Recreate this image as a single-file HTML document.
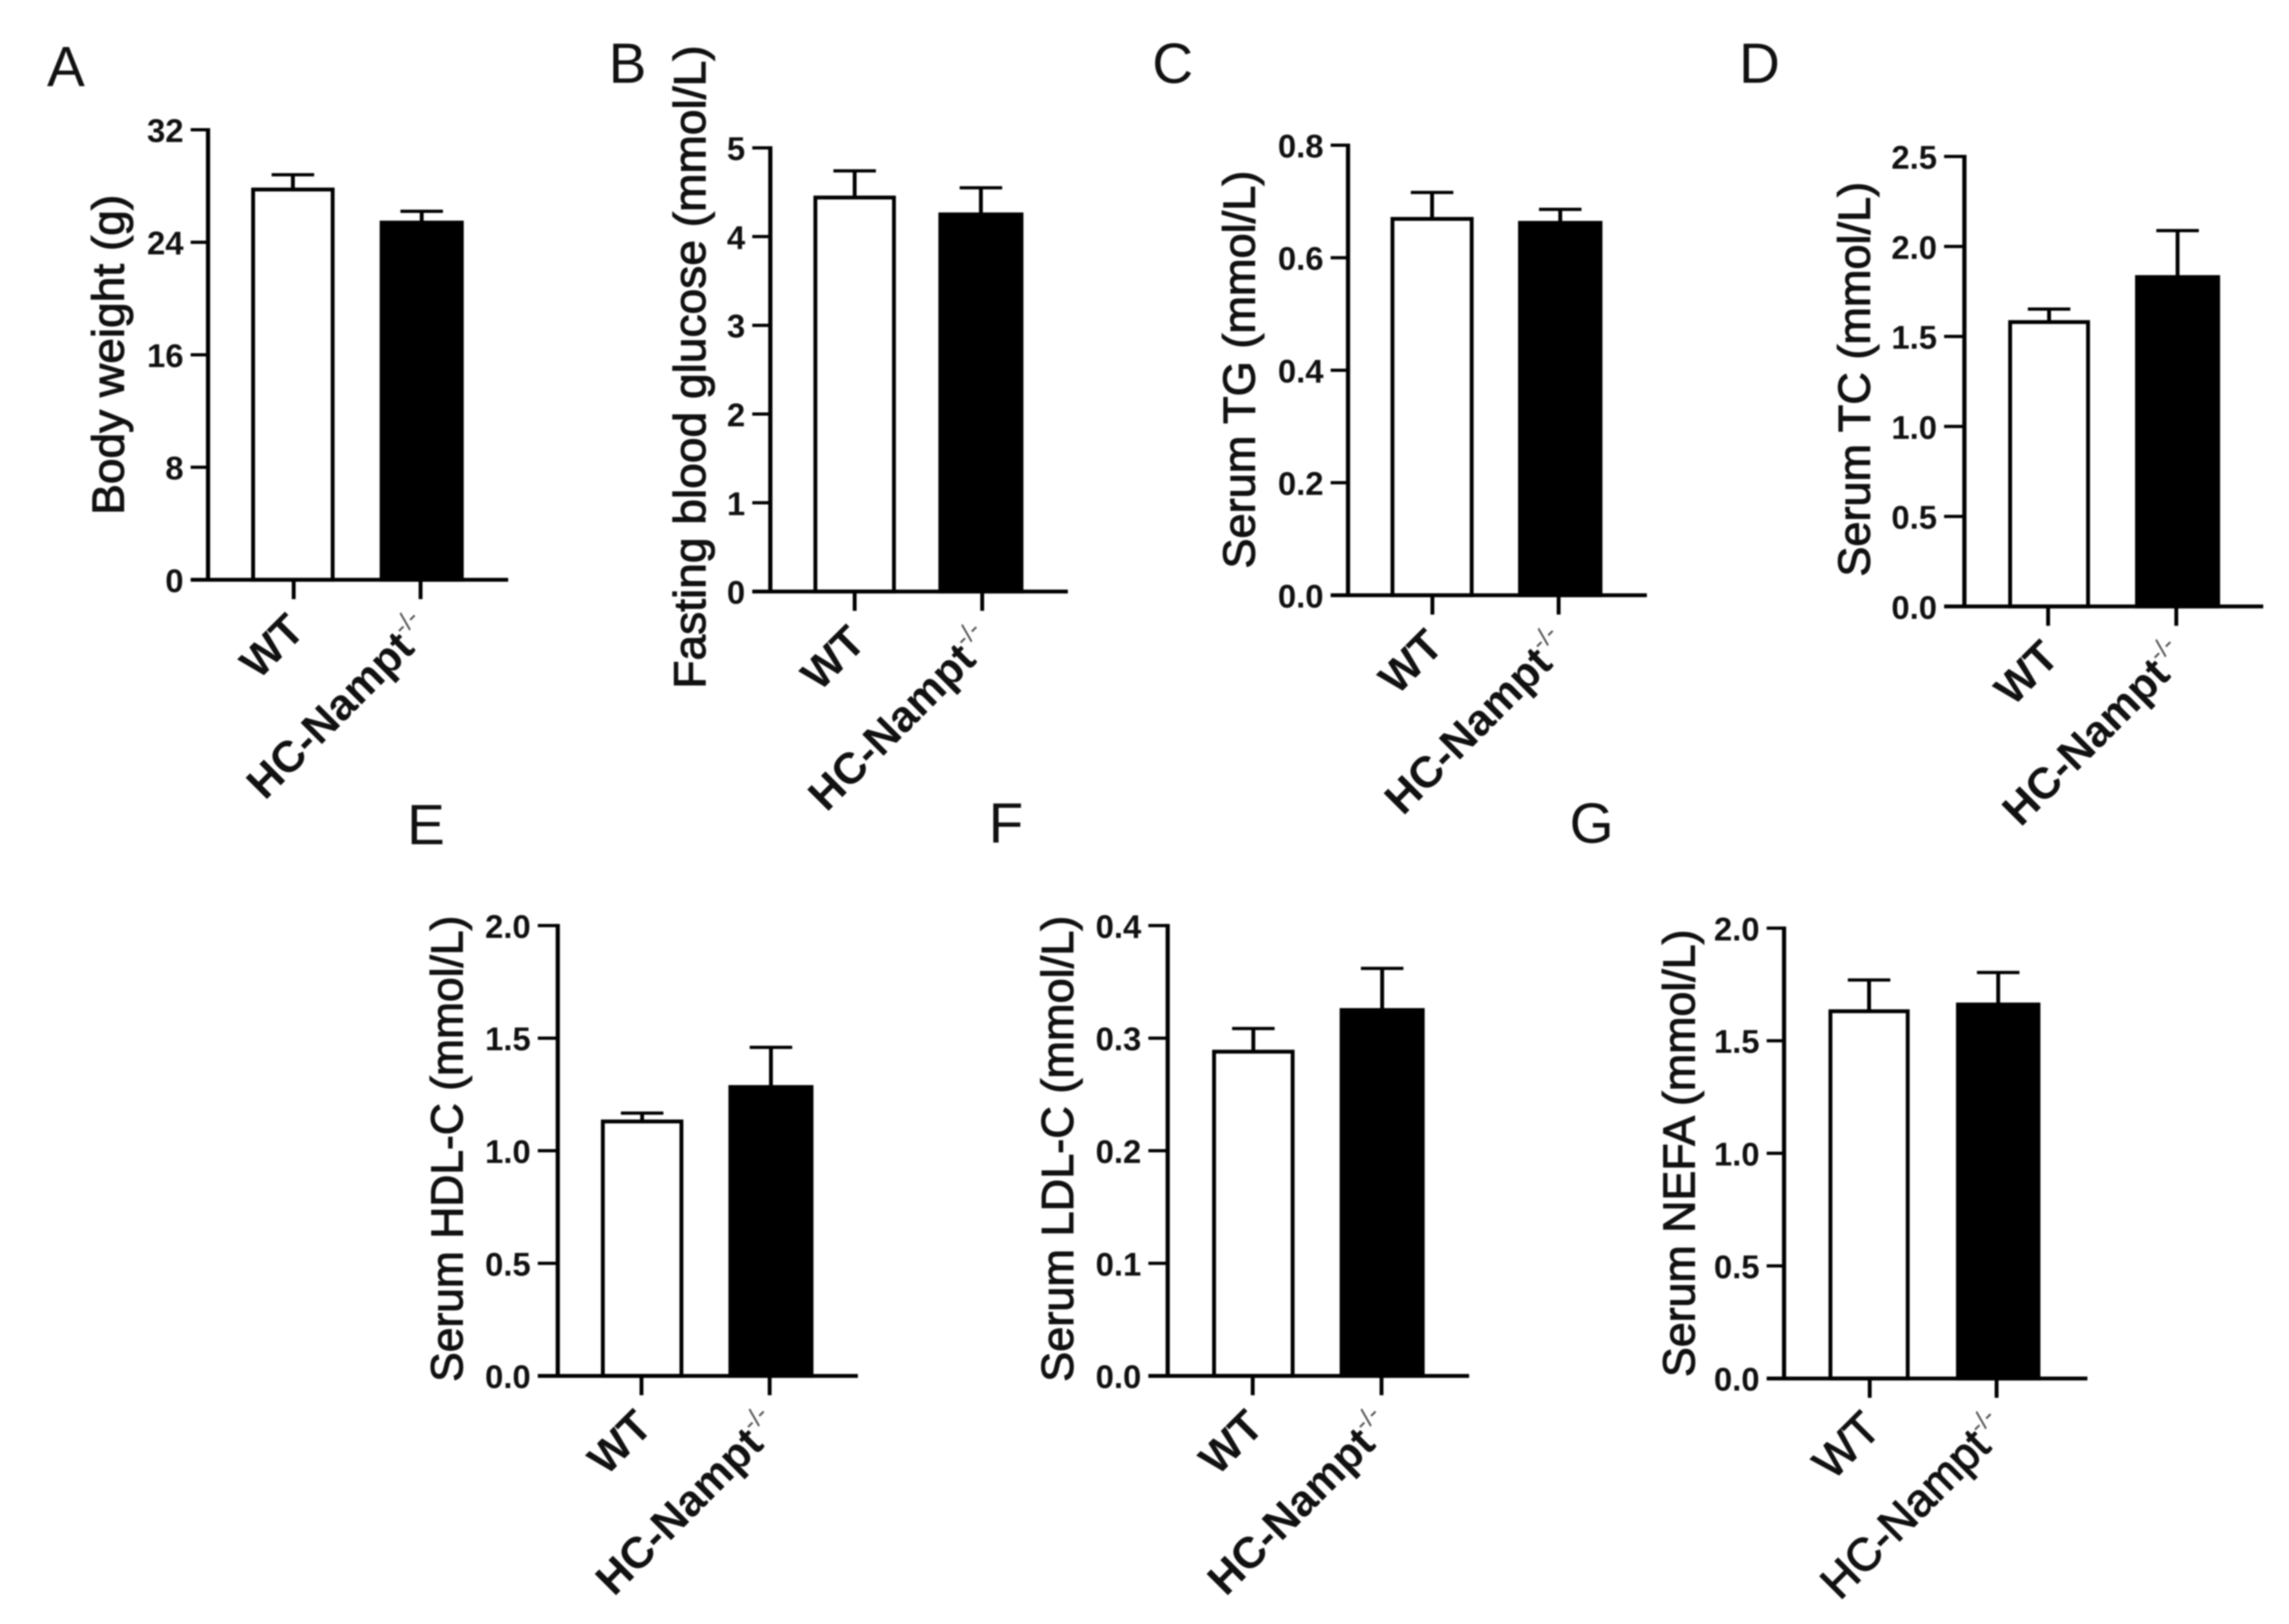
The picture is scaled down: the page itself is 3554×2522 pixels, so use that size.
<!DOCTYPE html>
<html lang="en">
<head>
<meta charset="utf-8">
<title>Body weight and serum lipid bar charts</title>
<style>
html,body{margin:0;padding:0;background:#fff;width:3554px;height:2522px;overflow:hidden}
svg{display:block;filter:blur(1px)}
text{font-family:"Liberation Sans",Arial,sans-serif;fill:#111}
</style>
</head>
<body>
<svg id="figure" xmlns="http://www.w3.org/2000/svg" width="3554" height="2522" viewBox="0 0 3554 2522"></svg>
<script>
// Chart data
const categories = ['WT', 'HC-Nampt'];
const categorySuperscripts = ['', '-/-'];

const panelLetters = ['A', 'B', 'C', 'D', 'E', 'F', 'G'];
const yTitles = ['Body weight (g)', 'Fasting blood glucose (mmol/L)', 'Serum TG (mmol/L)', 'Serum TC (mmol/L)', 'Serum HDL-C (mmol/L)', 'Serum LDL-C (mmol/L)', 'Serum NEFA (mmol/L)'];

const tickLabelsA = ['0', '8', '16', '24', '32'];
const tickLabelsB = ['0', '1', '2', '3', '4', '5'];
const tickLabelsC = ['0.0', '0.2', '0.4', '0.6', '0.8'];
const tickLabelsD = ['0.0', '0.5', '1.0', '1.5', '2.0', '2.5'];
const tickLabelsE = ['0.0', '0.5', '1.0', '1.5', '2.0'];
const tickLabelsF = ['0.0', '0.1', '0.2', '0.3', '0.4'];
const tickLabelsG = ['0.0', '0.5', '1.0', '1.5', '2.0'];

const meansA = [27.75, 25.4];
const errorTopsA = [28.8, 26.2];
const meansB = [4.44, 4.25];
const errorTopsB = [4.74, 4.55];
const meansC = [0.669, 0.662];
const errorTopsC = [0.716, 0.686];
const meansD = [1.58, 1.83];
const errorTopsD = [1.652, 2.088];
const meansE = [1.13, 1.283];
const errorTopsE = [1.167, 1.459];
const meansF = [0.288, 0.325];
const errorTopsF = [0.3086, 0.362];
const meansG = [1.631, 1.661];
const errorTopsG = [1.77, 1.803];

// Rendering
const svg = document.getElementById('figure');
const NS = 'http://www.w3.org/2000/svg';

function make(tag, attrs, parent) {
  const el = document.createElementNS(NS, tag);
  for (const k in attrs) el.setAttribute(k, attrs[k]);
  parent.appendChild(el);
  return el;
}

function linearY(maxValue, top, base) {
  return function (v) { return base - (v / maxValue) * (base - top); };
}

function drawPanel(idx, tickLabels, means, errorTops, g) {
  const key = panelLetters[idx].toLowerCase();
  const group = make('g', {}, svg);
  
  

  const letter = make('text', {
    x: g.letterX,
    y: g.letterY,
    'font-size': 88
  }, group);
  letter.textContent = panelLetters[idx];
  
  

  const title = make('text', {
    transform: 'translate(' + g.titleX + ',' + g.titleY + ') rotate(-90)',
    'text-anchor': 'middle',
    'font-size': 70,
    textLength: g.titleLen,
    lengthAdjust: 'spacingAndGlyphs',
    stroke: '#111',
    'stroke-width': 1.6
  }, group);
  title.textContent = yTitles[idx];
  
  

  const maxValue = parseFloat(tickLabels[tickLabels.length - 1]);
  const y = linearY(maxValue, g.top, g.base);

  tickLabels.forEach(function (label) {
    const ty = y(parseFloat(label));
    const tick = make('line', { x1: g.left, x2: g.axis, y1: ty, y2: ty, stroke: '#000', 'stroke-width': 5 }, group);
    
    
    const text = make('text', {
      x: g.left - 11,
      y: ty + 19,
      'text-anchor': 'end',
      'font-size': 51,
      'font-weight': 'bold'
    }, group);
    text.textContent = label;
    
    
  });

  categories.forEach(function (name, i) {
    const x0 = g.barL[i], x1 = g.barR[i], cx = (x0 + x1) / 2;
    const barTop = y(means[i]);
    const errTop = y(errorTops[i]);

    const stem = make('line', { x1: cx, x2: cx, y1: barTop, y2: errTop, stroke: '#000', 'stroke-width': 6 }, group);
    
    
    const cap = make('line', { x1: cx - 33, x2: cx + 33, y1: errTop, y2: errTop, stroke: '#000', 'stroke-width': 5 }, group);
    
    

    const bar = make('rect', {
      x: x0 + 3, y: barTop, width: x1 - x0 - 6, height: g.base - barTop,
      fill: i === 0 ? '#fff' : '#000', stroke: '#000', 'stroke-width': 6
    }, group);
    
    

    const xTick = make('line', { x1: g.tick[i], x2: g.tick[i], y1: g.base, y2: g.base + 30, stroke: '#000', 'stroke-width': 6 }, group);
    
    

    const lab = make('text', {
      transform: 'translate(' + (g.tick[i] + 20) + ',' + (g.base + 82) + ') rotate(-45)',
      'text-anchor': 'end',
      'font-size': g.lightLabels ? 71 : 68,
      'font-weight': g.lightLabels ? 'normal' : 'bold',
      stroke: g.lightLabels ? '#111' : 'none',
      'stroke-width': g.lightLabels ? 1.8 : 0
    }, group);
    
    
    lab.appendChild(document.createTextNode(name));
    if (categorySuperscripts[i]) {
      const sup = make('tspan', { dy: -29, 'font-size': 40, 'font-weight': 'normal', fill: '#555', stroke: 'none' }, lab);
      sup.textContent = categorySuperscripts[i];
    }
  });

  const yAxis = make('line', { x1: g.axis, x2: g.axis, y1: g.top - 2.5, y2: g.base, stroke: '#000', 'stroke-width': 6.5 }, group);
  
  
  const xAxis = make('line', { x1: g.left, x2: g.right, y1: g.base, y2: g.base, stroke: '#000', 'stroke-width': 6 }, group);
  
  
}

drawPanel(0, tickLabelsA, meansA, errorTopsA, { letterX: 73, letterY: 134, titleX: 192, titleY: 551, titleLen: 497, axis: 323, left: 296, right: 789, top: 201.5, base: 900.4, barL: [390, 589.5], barR: [519.5, 720], tick: [456, 653] });
drawPanel(1, tickLabelsB, meansB, errorTopsB, { letterX: 945, letterY: 128.5, titleX: 1095, titleY: 570, titleLen: 999, axis: 1196, left: 1168, right: 1658, top: 229.6, base: 918.6, barL: [1263, 1457], barR: [1391, 1589], tick: [1327, 1525] });
drawPanel(2, tickLabelsC, meansC, errorTopsC, { letterX: 1789, letterY: 128.5, titleX: 1948, titleY: 574, titleLen: 618, axis: 2093, left: 2066, right: 2557, top: 225.5, base: 924.4, barL: [2159, 2357], barR: [2288, 2488], tick: [2224, 2420] });
drawPanel(3, tickLabelsD, meansD, errorTopsD, { letterX: 2700, letterY: 128.5, titleX: 2903, titleY: 589, titleLen: 613, axis: 3050, left: 3018.5, right: 3514, top: 243, base: 941.8, barL: [3118, 3315], barR: [3245, 3447], tick: [3180, 3379] });
drawPanel(4, tickLabelsE, meansE, errorTopsE, { letterX: 632, letterY: 1311, titleX: 718, titleY: 1784, titleLen: 724, axis: 866, left: 835, right: 1332, top: 1437.4, base: 2136.7, barL: [933, 1131], barR: [1061, 1263], tick: [996, 1195] });
drawPanel(5, tickLabelsF, meansF, errorTopsF, { letterX: 1535, letterY: 1308.5, titleX: 1666, titleY: 1784, titleLen: 724, axis: 1813, left: 1783, right: 2281, top: 1437.4, base: 2136.7, barL: [1882, 2080], barR: [2010, 2212], tick: [1945, 2145] });
drawPanel(6, tickLabelsG, meansG, errorTopsG, { letterX: 2437, letterY: 1308.5, titleX: 2631, titleY: 1791, titleLen: 695, axis: 2770, left: 2743, right: 3241, top: 1441.4, base: 2140.7, barL: [2839, 3037], barR: [2965, 3168], tick: [2903, 3100], lightLabels: true });
</script>
</body>
</html>
